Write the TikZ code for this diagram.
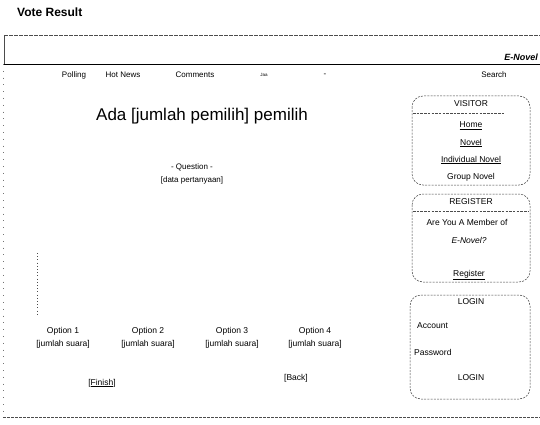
\documentclass[tikz,border=0pt]{standalone}
\usepackage{fontspec}
\setmainfont{Liberation Sans}
\begin{document}
\begin{tikzpicture}[x=1pt,y=-1pt,
  lbl/.style={inner sep=0pt,font=\fontsize{8.5}{10}\selectfont},
  sml/.style={inner sep=0pt,font=\fontsize{8}{9.5}\selectfont},
  box/.style={draw=black!75,dashed,dash pattern=on 2pt off 1.2pt,rounded corners=11pt,line width=0.5pt},
  sep/.style={draw=black!70,dash pattern=on 2.5pt off 1.2pt,line width=0.4pt},
  rule/.style={draw=black!55,dash pattern=on 0.8pt off 6pt,line width=0.6pt}
]
\useasboundingbox (0,0) rectangle (540,425);
\fill[white] (0,0) rectangle (540,425);

% page heading
\node[anchor=west,inner sep=0pt,font=\fontsize{12}{14}\selectfont\bfseries] (heading) at (17,12) {Vote Result};

% header band
\coordinate (hTL) at (4,35);
\coordinate (hTR) at (540,35);
\coordinate (hBL) at (4,64);
\coordinate (hBR) at (540,64);
\draw[black!70,dash pattern=on 4pt off 1pt,line width=0.5pt] (hTL) -- (hTR);
\draw[black,line width=0.9pt] (hBL) -- (hBR);
\draw[black!70,line width=0.5pt] (hTL) -- (hBL);
\node[anchor=east,inner sep=0pt,font=\fontsize{9}{11}\selectfont\bfseries\itshape] (brand) at (538,57) {E-Novel};

% navigation bar
\node[sml] (nav1) at (74,75) {Polling};
\node[sml] (nav2) at (123,75) {Hot News};
\node[sml] (nav3) at (195,75) {Comments};
\node[inner sep=0pt,font=\fontsize{4.5}{5}\selectfont] (nav4) at (264,75) {Jaa};
\node[sml] (nav5) at (325,75) {-};
\node[sml] (nav6) at (494,75) {Search};

% left and bottom page edges
\coordinate (eTop) at (3,64);
\coordinate (eBot) at (3,416);
\coordinate (bL) at (3,417);
\coordinate (bR) at (540,417);
\draw[rule] (eTop) -- (eBot);
\draw[black!70,dash pattern=on 3pt off 1pt,line width=0.5pt] (bL) -- (bR);

% main content
\node[inner sep=0pt,font=\fontsize{17}{20}\selectfont] (title) at (202,116) {Ada [jumlah pemilih] pemilih};
\node[sml] (q1) at (192,167) {- Question -};
\node[sml] (q2) at (192,180) {[data pertanyaan]};

% chart axis
\coordinate (axT) at (37,253);
\coordinate (axB) at (37,315);
\draw[black!70,dash pattern=on 1pt off 2.2pt,line width=0.6pt] (axT) -- (axB);

% options
\foreach \i/\x in {1/63,2/148,3/232,4/315}{
  \node[lbl] (opt\i) at (\x,331) {Option \i};
  \node[lbl] (val\i) at (\x,344) {[jumlah suara]};
}

\node[lbl] (finish) at (102,383) {[\underline{Finish}]};
\node[lbl] (back) at (296,378) {[Back]};

% visitor panel
\draw[box] (412,96) rectangle (530,185);
\coordinate (vs1) at (413,113);
\coordinate (vs2) at (505,113);
\draw[sep] (vs1) -- (vs2);
\node[lbl] (visitor) at (471,104) {VISITOR};
\node[lbl] (home) at (471,126) {\underline{Home}};
\node[lbl] (novel) at (471,143) {\underline{Novel}};
\node[lbl] (indiv) at (471,160) {\underline{Individual Novel}};
\node[lbl] (group) at (471,177) {Group Novel};

% register panel
\draw[box] (412,194) rectangle (530,282);
\coordinate (rs1) at (413,211);
\coordinate (rs2) at (529,211);
\draw[sep] (rs1) -- (rs2);
\node[lbl] (register) at (471,202) {REGISTER};
\node[lbl] (member) at (467,222) {Are You A Member of};
\node[lbl,font=\fontsize{8.5}{10}\selectfont\itshape] (enovel) at (469,240) {E-Novel?};
\node[lbl] (reglink) at (469,275) {\underline{Register}};

% login panel
\draw[box] (410,295) rectangle (530,399);
\node[lbl] (login) at (471,302) {LOGIN};
\node[lbl,anchor=west] (account) at (417,326) {Account};
\node[lbl,anchor=west] (password) at (414,352) {Password};
\node[lbl] (loginbtn) at (471,378) {LOGIN};
\end{tikzpicture}
\end{document}
